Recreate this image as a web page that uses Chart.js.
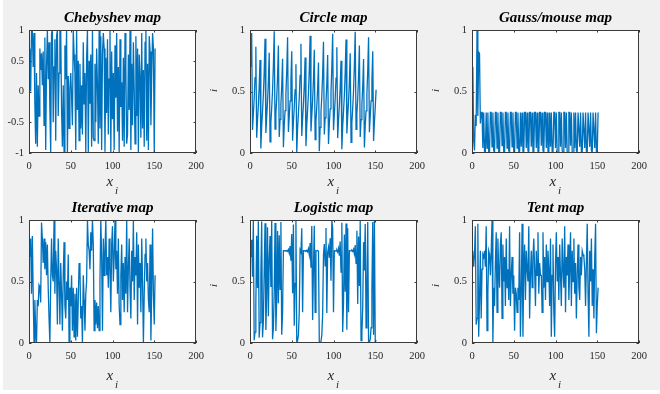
<!DOCTYPE html>
<html>
<head>
<meta charset="utf-8">
<script src="https://cdn.jsdelivr.net/npm/chart.js@4.4.1/dist/chart.umd.min.js"></script>
<style>
  body { margin: 0; background: #fff; width: 660px; height: 394px; overflow: hidden; }
  #fig { position: absolute; left: 3px; top: 0; width: 657px; height: 390px; background: #f0f0f0; }
  canvas { position: absolute; left: 0; top: 0; }
</style>
</head>
<body>
<div id="fig"></div>
<canvas id="c0" width="660" height="394"></canvas>
<canvas id="c1" width="660" height="394"></canvas>
<canvas id="c2" width="660" height="394"></canvas>
<canvas id="c3" width="660" height="394"></canvas>
<canvas id="c4" width="660" height="394"></canvas>
<canvas id="c5" width="660" height="394"></canvas>
<script>
// titles and ticks
var titles = ['Chebyshev map', 'Circle map', 'Gauss/mouse map', 'Iterative map', 'Logistic map', 'Tent map'];
var xTicks = [0, 50, 100, 150, 200];
var yTicksUnit = [0, 0.5, 1];
var yTicksSigned = [-1, -0.5, 0, 0.5, 1];

// series values, one per iteration
var chebyshev = [
  0.70, 0.00, 0.98, 1.00, 0.40, 0.95, -0.20, -0.85, 0.30, -0.90,
  0.10, -0.40, 0.70, 0.35, 0.62, 0.10, 0.65, -0.55, 0.88, -0.95,
  0.40, 1.00, 0.20, 0.80, -0.30, -1.00, 0.95, 1.00, -0.50, 0.40,
  0.85, -0.80, 0.90, 1.00, -0.40, 0.30, 1.00, 0.98, -0.30, -0.90,
  0.10, -0.98, 0.75, 0.20, 1.00, -1.00, 0.25, -0.60, 0.05, 0.30,
  -0.10, -0.55, 1.00, 0.60, 0.30, -0.95, 1.00, -0.30, 0.50, -0.80,
  0.45, -0.60, 0.10, -0.70, 0.80, -0.20, 0.30, -1.00, 0.55, 1.00,
  -1.00, 0.50, -0.20, 0.60, -0.90, 1.00, -0.75, -0.80, 0.45, -0.50,
  0.70, 0.10, -0.85, 1.00, -0.60, 0.90, -0.95, 0.60, 0.95, 0.70,
  -0.98, 0.55, -0.35, 0.85, -0.70, 0.20, 1.00, -1.00, 0.65, -0.45,
  0.30, -0.95, 0.75, -0.10, 0.95, -0.65, 0.40, -1.00, 0.85, -0.25,
  0.15, -0.80, 0.55, -0.90, 0.95, 0.35, -0.85, -0.70, 0.60, -0.30,
  1.00, -0.95, 0.45, -0.55, 0.80, 0.05, -0.85, 0.90, -0.40, 0.70,
  -1.00, 0.60, 0.25, -0.75, 0.95, -0.60, 0.35, -0.90, 0.80, 1.00,
  -0.80, 0.45, -0.95, 0.90, 0.65, -0.55, 0.30, 0.95, 0.70, -1.00,
  0.70
];
var circle = [
  0.700, 0.976, 0.188, 0.314, 0.441, 0.612, 0.864, 0.124, 0.268, 0.389,
  0.538, 0.757, 0.036, 0.218, 0.340, 0.473, 0.659, 0.928, 0.162, 0.294,
  0.418, 0.579, 0.816, 0.090, 0.247, 0.367, 0.508, 0.712, 0.989, 0.194,
  0.318, 0.446, 0.620, 0.874, 0.131, 0.273, 0.394, 0.544, 0.766, 0.046,
  0.223, 0.344, 0.479, 0.669, 0.941, 0.170, 0.300, 0.424, 0.587, 0.828,
  0.099, 0.252, 0.372, 0.515, 0.722, 0.000, 0.200, 0.324, 0.453, 0.630,
  0.888, 0.139, 0.278, 0.399, 0.552, 0.777, 0.056, 0.229, 0.350, 0.486,
  0.679, 0.953, 0.176, 0.305, 0.429, 0.595, 0.840, 0.108, 0.259, 0.379,
  0.524, 0.736, 0.015, 0.208, 0.331, 0.462, 0.643, 0.905, 0.150, 0.286,
  0.408, 0.565, 0.797, 0.073, 0.238, 0.358, 0.496, 0.694, 0.970, 0.185,
  0.312, 0.438, 0.609, 0.860, 0.121, 0.266, 0.386, 0.533, 0.750, 0.030,
  0.215, 0.337, 0.470, 0.655, 0.922, 0.159, 0.292, 0.415, 0.575, 0.811,
  0.086, 0.245, 0.365, 0.506, 0.709, 0.986, 0.193, 0.317, 0.445, 0.619,
  0.873, 0.130, 0.272, 0.393, 0.543, 0.764, 0.044, 0.222, 0.343, 0.478,
  0.668, 0.940, 0.169, 0.299, 0.423, 0.586, 0.827, 0.098, 0.251, 0.371,
  0.514
];
var gauss = [
  0.70, 0.10, 0.02, 0.31, 0.22, 1.00, 0.30, 0.82, 0.81, 0.24,
  0.33, 0.33, 0.04, 0.33, 0.01, 0.00,
  0.33, 0.04, 0.33, 0.01, 0.00,
  0.33, 0.33, 0.05, 0.33, 0.02, 0.00,
  0.33, 0.33, 0.04, 0.33, 0.01, 0.00,
  0.33, 0.33, 0.06, 0.33, 0.01, 0.00,
  0.33, 0.33, 0.04, 0.33, 0.02, 0.00,
  0.33, 0.33, 0.05, 0.33, 0.01, 0.00,
  0.33, 0.33, 0.04, 0.33, 0.01, 0.00,
  0.33, 0.05, 0.33, 0.01, 0.00,
  0.33, 0.33, 0.04, 0.33, 0.02, 0.00,
  0.33, 0.33, 0.05, 0.33, 0.01, 0.00,
  0.33, 0.33, 0.04, 0.33, 0.01, 0.00,
  0.33, 0.33, 0.06, 0.33, 0.02, 0.00,
  0.33, 0.33, 0.04, 0.33, 0.01, 0.00,
  0.33, 0.05, 0.33, 0.01, 0.00,
  0.33, 0.33, 0.04, 0.33, 0.01, 0.00,
  0.33, 0.33, 0.05, 0.33, 0.02, 0.00,
  0.33, 0.33, 0.04, 0.33, 0.01, 0.00,
  0.33, 0.33, 0.06, 0.33, 0.01, 0.00,
  0.33, 0.04, 0.33, 0.02, 0.00,
  0.33, 0.33, 0.05, 0.33, 0.01, 0.00,
  0.33, 0.33, 0.04, 0.33, 0.01, 0.00,
  0.33, 0.33, 0.05, 0.33, 0.02, 0.00,
  0.33, 0.33, 0.04, 0.33, 0.01, 0.00,
  0.33
];
var iterative = [
  0.70, 0.85, 0.40, 0.87, 0.40, 0.00, 0.35, 0.10, 0.00, 0.35,
  0.30, 0.47, 0.45, 0.33, 0.98, 0.85, 0.65, 0.85, 0.60, 0.82,
  0.55, 0.80, 0.45, 0.20, 0.00, 0.50, 0.85, 0.55, 0.50, 1.00,
  0.40, 0.75, 0.60, 0.15, 0.85, 0.50, 0.15, 0.65, 0.40, 0.10,
  0.55, 0.82, 0.30, 0.20, 0.50, 0.35, 0.72, 0.00, 0.45, 0.30,
  0.55, 0.10, 0.45, 0.05, 0.40, 0.02, 0.45, 0.05, 0.35, 0.65,
  0.60, 0.20, 0.30, 0.00, 0.55, 0.35, 0.10, 0.40, 0.50, 1.00,
  0.80, 0.75, 0.60, 0.90, 0.75, 1.00, 0.80, 0.10, 0.35, 0.15,
  0.33, 0.12, 0.30, 0.10, 0.50, 1.00, 0.70, 0.10, 0.85, 0.55,
  0.75, 1.00, 0.55, 0.70, 0.45, 0.85, 0.60, 0.25, 0.80, 0.95,
  0.50, 0.70, 1.00, 0.60, 0.75, 0.40, 0.85, 0.30, 0.15, 0.55,
  0.80, 0.35, 0.65, 0.25, 0.70, 0.40, 1.00, 0.25, 0.60, 0.85,
  0.45, 0.20, 0.75, 0.50, 1.00, 0.35, 0.70, 0.55, 0.90, 0.15,
  0.80, 0.45, 0.65, 0.25, 0.85, 0.50, 0.00, 0.40, 0.72, 0.85,
  0.50, 0.65, 0.35, 0.25, 0.80, 0.02, 0.45, 0.93, 0.40, 0.15,
  0.55
];
var logistic = [
  0.700, 0.840, 0.538, 0.994, 0.022, 0.088, 0.321, 0.872, 0.448, 0.989,
  0.043, 0.166, 0.554, 0.988, 0.046, 0.177, 0.583, 0.973, 0.106, 0.380,
  0.942, 0.218, 0.681, 0.869, 0.456, 0.992, 0.031, 0.120, 0.421, 0.975,
  0.097, 0.351, 0.911, 0.323, 0.875, 0.437, 0.984, 0.067, 0.250, 0.750,
  0.750, 0.751, 0.749, 0.752, 0.745, 0.760, 0.730, 0.788, 0.669, 0.886,
  0.404, 0.963, 0.141, 0.485, 0.999, 0.004, 0.017, 0.068, 0.253, 0.756,
  0.738, 0.933, 0.250, 0.750, 0.750, 0.751, 0.748, 0.754, 0.742, 0.766,
  0.717, 0.812, 0.611, 0.951, 0.187, 0.608, 0.953, 0.250, 0.750, 0.749,
  0.752, 0.745, 0.001, 0.004, 0.016, 0.063, 0.236, 0.721, 0.805, 0.628,
  0.935, 0.243, 0.736, 0.777, 0.693, 0.851, 0.507, 1.000, 0.933, 0.250,
  0.750, 0.751, 0.748, 0.755, 0.740, 0.770, 0.709, 0.826, 0.576, 0.977,
  0.090, 0.328, 0.882, 0.417, 0.972, 0.108, 0.933, 0.250, 0.750, 0.751,
  0.749, 0.753, 0.744, 0.762, 0.725, 0.797, 0.647, 0.913, 0.317, 0.866,
  0.464, 0.995, 0.020, 0.078, 0.288, 0.820, 0.590, 0.968, 0.124, 0.434,
  0.983, 0.002, 0.008, 0.032, 0.124, 0.434, 0.983, 0.067, 0.998, 0.006,
  0.024
];
var tent = [
  0.75, 0.62, 0.72, 0.95, 0.15, 0.20, 0.97, 0.05, 0.35, 0.75,
  0.20, 0.60, 0.72, 0.70, 0.75, 0.62, 0.95, 0.10, 0.40, 0.75,
  0.72, 0.55, 0.75, 1.00, 0.00, 0.45, 0.30, 0.65, 0.90, 0.25,
  0.85, 0.60, 0.45, 0.80, 0.90, 0.20, 0.80, 0.50, 0.70, 0.30,
  0.85, 0.45, 0.60, 0.35, 0.95, 0.30, 0.55, 0.70, 0.40, 0.55,
  0.10, 0.45, 0.40, 0.25, 0.45, 0.35, 0.90, 0.05, 0.40, 0.97,
  0.05, 0.60, 0.80, 0.35, 0.75, 0.60, 0.50, 0.95, 0.20, 0.55,
  0.75, 0.45, 0.70, 0.85, 0.60, 0.30, 0.75, 0.55, 0.90, 0.40,
  0.65, 0.55, 0.55, 0.25, 0.90, 0.45, 0.70, 0.35, 0.80, 0.50,
  0.75, 0.60, 0.30, 0.85, 0.05, 0.55, 0.80, 0.25, 0.05, 0.65,
  0.90, 0.50, 0.70, 0.35, 0.80, 0.55, 0.30, 0.85, 0.60, 0.45,
  0.95, 0.25, 0.70, 0.55, 0.80, 0.35, 0.60, 0.90, 0.30, 0.75,
  0.50, 0.85, 0.40, 0.65, 0.20, 0.55, 0.80, 0.45, 0.35, 0.70,
  0.55, 0.75, 0.72, 0.70, 0.60, 0.30, 0.65, 0.97, 0.40, 0.05,
  0.75, 0.50, 0.85, 0.30, 0.60, 0.20, 0.70, 0.97, 0.08, 0.30,
  0.45
];

var serif = "'Liberation Serif', 'Times New Roman', serif";
var lineBlue = '#0072BD';

// plot boxes [left, top, right, bottom] on the page
var panels = [
  { canvas: 'c0', title: titles[0], values: chebyshev, yMin: -1, yTicks: yTicksSigned, box: [29, 30, 196, 153], row: 0, ylabelX: null },
  { canvas: 'c1', title: titles[1], values: circle, yMin: 0, yTicks: yTicksUnit, box: [250, 30, 417, 153], row: 0, ylabelX: 217 },
  { canvas: 'c2', title: titles[2], values: gauss, yMin: 0, yTicks: yTicksUnit, box: [472, 30, 639, 153], row: 0, ylabelX: 439 },
  { canvas: 'c3', title: titles[3], values: iterative, yMin: 0, yTicks: yTicksUnit, box: [29, 220, 196, 343], row: 1, ylabelX: null },
  { canvas: 'c4', title: titles[4], values: logistic, yMin: 0, yTicks: yTicksUnit, box: [250, 220, 417, 343], row: 1, ylabelX: 217 },
  { canvas: 'c5', title: titles[5], values: tent, yMin: 0, yTicks: yTicksUnit, box: [472, 220, 639, 343], row: 1, ylabelX: 439 }
];
var xlabelOffset = [33, 37];
var ylabelCenter = [90.5, 285.5];

var matlabAxes = {
  id: 'matlabAxes',
  beforeDraw: function(chart) {
    var a = chart.chartArea, ctx = chart.ctx;
    ctx.save();
    ctx.fillStyle = '#ffffff';
    ctx.fillRect(a.left, a.top, a.right - a.left, a.bottom - a.top);
    ctx.restore();
  },
  afterDraw: function(chart, args, opts) {
    var a = chart.chartArea, ctx = chart.ctx;
    var sx = chart.scales.x, sy = chart.scales.y;
    var tl = 2.5;
    ctx.save();
    ctx.strokeStyle = '#3a3a3a';
    ctx.lineWidth = 1;
    ctx.beginPath();
    xTicks.forEach(function(v) {
      var px = Math.round(sx.getPixelForValue(v)) + 0.5;
      ctx.moveTo(px, a.bottom); ctx.lineTo(px, a.bottom - tl);
      ctx.moveTo(px, a.top); ctx.lineTo(px, a.top + tl);
    });
    opts.yTicks.forEach(function(v) {
      var py = Math.round(sy.getPixelForValue(v)) + 0.5;
      ctx.moveTo(a.left, py); ctx.lineTo(a.left + tl, py);
      ctx.moveTo(a.right, py); ctx.lineTo(a.right - tl, py);
    });
    ctx.stroke();
    ctx.strokeRect(Math.round(a.left) + 0.5, Math.round(a.top) + 0.5,
                   Math.round(a.right - a.left) - 1, Math.round(a.bottom - a.top) - 1);

    var cx = (a.left + a.right) / 2;
    ctx.fillStyle = '#000000';
    ctx.textAlign = 'center';
    ctx.textBaseline = 'alphabetic';
    ctx.font = 'bold italic 15px ' + serif;
    ctx.fillText(opts.title, cx, a.top - 8);

    // x label: x with subscript i
    ctx.fillStyle = '#262626';
    ctx.font = 'italic 15px ' + serif;
    ctx.textAlign = 'left';
    var xb = a.bottom + xlabelOffset[opts.row];
    ctx.fillText('x', cx - 6, xb);
    ctx.font = 'italic 11px ' + serif;
    ctx.fillText('i', cx + 2.5, xb + 8);

    // y label, mostly hidden behind the neighbouring plot
    if (opts.ylabelX !== null) {
      ctx.translate(opts.ylabelX, ylabelCenter[opts.row]);
      ctx.rotate(-Math.PI / 2);
      ctx.textAlign = 'center';
      ctx.fillText('i', 0, 0);
    }
    ctx.restore();
  }
};

panels.forEach(function(p) {
  var points = p.values.map(function(v, i) { return { x: i + 1, y: v }; });
  var b = p.box;
  new Chart(document.getElementById(p.canvas), {
    type: 'line',
    data: {
      datasets: [{
        data: points,
        borderColor: lineBlue,
        borderWidth: 1.3,
        pointRadius: 0,
        fill: false,
        tension: 0
      }]
    },
    options: {
      responsive: false,
      animation: false,
      events: [],
      layout: {
        autoPadding: false,
        padding: { left: b[0] - 30, top: b[1], right: 660 - b[2], bottom: 394 - b[3] - 20 }
      },
      plugins: {
        legend: { display: false },
        tooltip: { enabled: false },
        matlabAxes: { title: p.title, yTicks: p.yTicks, row: p.row, ylabelX: p.ylabelX }
      },
      scales: {
        x: {
          type: 'linear', min: 0, max: 200,
          afterBuildTicks: function(s) { s.ticks = xTicks.map(function(v) { return { value: v }; }); },
          afterFit: function(s) { s.height = 20; },
          grid: { display: false, drawTicks: false },
          border: { display: false },
          ticks: {
            color: '#262626', padding: 7, maxRotation: 0, autoSkip: false,
            font: { family: serif, size: 10.5 },
            callback: function(v) { return String(v); }
          }
        },
        y: {
          type: 'linear', min: p.yMin, max: 1,
          afterBuildTicks: function(s) { s.ticks = p.yTicks.map(function(v) { return { value: v }; }); },
          afterFit: function(s) { s.width = 30; },
          grid: { display: false, drawTicks: false },
          border: { display: false },
          ticks: {
            color: '#262626', padding: 5, autoSkip: false,
            font: { family: serif, size: 10.5 },
            callback: function(v) { return String(v); }
          }
        }
      }
    },
    plugins: [matlabAxes]
  });
});
</script>
</body>
</html>
